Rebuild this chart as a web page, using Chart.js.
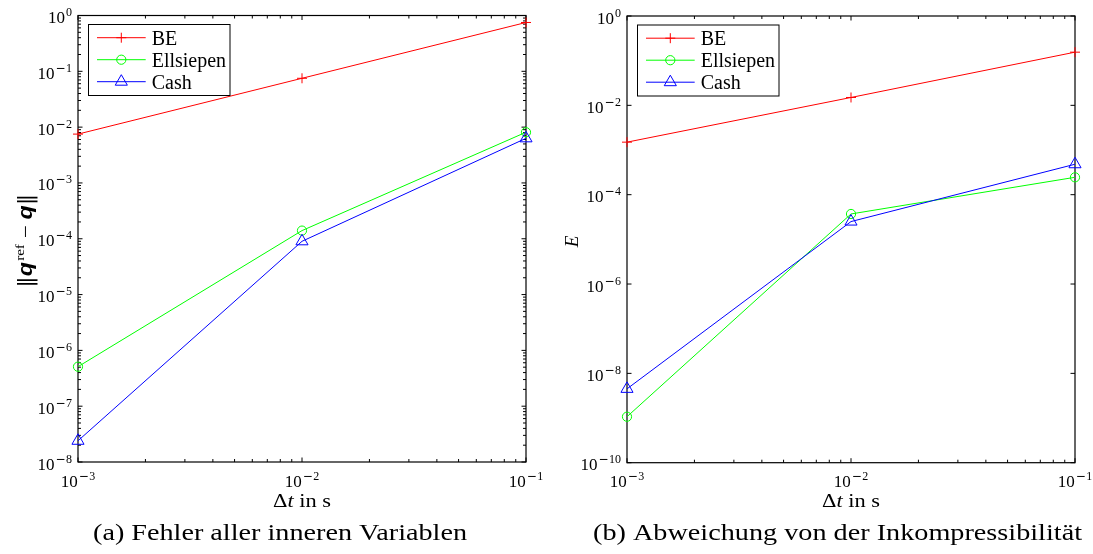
<!DOCTYPE html>
<html>
<head>
<meta charset="utf-8">
<script src="https://cdn.jsdelivr.net/npm/chart.js@4/dist/chart.umd.min.js"></script>
<style>
  html, body { margin: 0; padding: 0; background: #fff; }
  body { width: 1093px; height: 554px; overflow: hidden; position: relative; }
  .wrap { position: absolute; top: 0; height: 554px; }
</style>
</head>
<body>
<div class="wrap" style="left:0;width:546px"><canvas id="c1"></canvas></div>
<div class="wrap" style="left:546px;width:547px"><canvas id="c2"></canvas></div>
<script>
// ---------------- data ----------------
const dt = [1e-3, 1e-2, 1e-1];
const seriesNames = ['BE', 'Ellsiepen', 'Cash'];

// (a) error of all inner variables
const errBE        = [7.5e-3, 7.5e-2, 7.5e-1];
const errEllsiepen = [5.1e-7, 1.4e-4, 8.1e-3];
const errCash      = [2.4e-8, 9.0e-5, 6.3e-3];

// (b) deviation from incompressibility
const incBE        = [1.5e-3, 1.5e-2, 1.55e-1];
const incEllsiepen = [1.07e-9, 3.7e-5, 2.45e-4];
const incCash      = [4.5e-9, 2.5e-5, 4.8e-4];

const xTickValues = [1e-3, 1e-2, 1e-1];
const xTickLabels = ['10^-3', '10^-2', '10^-1'];
const errYTickValues = [1e-8, 1e-7, 1e-6, 1e-5, 1e-4, 1e-3, 1e-2, 1e-1, 1e0];
const errYTickLabels = ['10^-8', '10^-7', '10^-6', '10^-5', '10^-4', '10^-3', '10^-2', '10^-1', '10^0'];
const incYTickValues = [1e-10, 1e-8, 1e-6, 1e-4, 1e-2, 1e0];
const incYTickLabels = ['10^-10', '10^-8', '10^-6', '10^-4', '10^-2', '10^0'];

const captionA = '(a) Fehler aller inneren Variablen';
const captionB = '(b) Abweichung von der Inkompressibilität';

// ---------------- styles ----------------
const SERIF = '"Liberation Serif", "DejaVu Serif", serif';
const styles = [
  { color: '#ff0000', point: 'cross', radius: 5 },
  { color: '#00ff00', point: 'circle', radius: 4.6 },
  { color: '#0000ff', point: 'triangle', radius: 7 }
];

function makeDatasets(seriesArrays) {
  return seriesArrays.map((vals, i) => ({
    label: seriesNames[i],
    data: dt.map((x, j) => ({ x: x, y: vals[j] })),
    borderColor: styles[i].color,
    backgroundColor: 'rgba(0,0,0,0)',
    pointStyle: styles[i].point,
    pointRadius: styles[i].radius,
    pointHoverRadius: styles[i].radius,
    pointBorderWidth: 1,
    pointBorderColor: styles[i].color,
    pointBackgroundColor: 'rgba(0,0,0,0)',
    borderWidth: 1,
    showLine: true,
    fill: false,
    tension: 0,
    clip: false,
    order: 2 - i
  }));
}

// draw "10^e" label
function drawPow(ctx, label, x, yBase, align) {
  const parts = label.split('^');
  const b = parts[0], e = parts[1];
  const neg = e.charAt(0) === '-';
  const digits = neg ? e.slice(1) : e;
  const fB = '17px ' + SERIF;
  const fM = '12px "DejaVu Sans"';
  const fE = '12px ' + SERIF;
  ctx.font = fB; const wB = ctx.measureText(b).width;
  ctx.font = fM; const wM = neg ? ctx.measureText('\u2212').width : 0;
  ctx.font = fE; const wE = ctx.measureText(digits).width;
  const gap = 1;
  const total = wB + gap + wM + (neg ? 0.5 : 0) + wE;
  let sx = align === 'right' ? x - total : x - total / 2;
  ctx.textAlign = 'left';
  ctx.textBaseline = 'alphabetic';
  ctx.font = fB; ctx.fillText(b, sx, yBase);
  let ex = sx + wB + gap;
  const ey = yBase - 7;
  if (neg) { ctx.font = fM; ctx.fillText('\u2212', ex, ey); ex += wM + 0.5; }
  ctx.font = fE; ctx.fillText(digits, ex, ey);
}

// draw text made of pieces, centred at cx, optionally scaled to a target width
function drawPieces(ctx, pieces, cx, baseline, targetWidth) {
  let total = 0;
  const widths = pieces.map(p => { ctx.font = p.font; const w = ctx.measureText(p.t).width + (p.pad || 0); total += w; return w; });
  const sc = targetWidth ? targetWidth / total : 1;
  ctx.save();
  ctx.translate(cx, baseline);
  ctx.scale(sc, 1);
  ctx.textAlign = 'left';
  ctx.textBaseline = 'alphabetic';
  let x = -total / 2;
  pieces.forEach((p, i) => {
    ctx.font = p.font;
    ctx.fillText(p.t, x, p.dy || 0);
    x += widths[i];
  });
  ctx.restore();
}

function framePlugin(cfg) {
  return {
    id: 'frame_' + cfg.key,
    beforeDatasetsDraw(chart) {
      const ctx = chart.ctx, a = chart.chartArea;
      const xs = chart.scales.x, ys = chart.scales.y;
      ctx.save();
      ctx.strokeStyle = '#000';
      ctx.lineWidth = 1.2;
      ctx.strokeRect(a.left, a.top, a.right - a.left, a.bottom - a.top);
      ctx.lineWidth = 1;
      ctx.beginPath();
      // x ticks (major + minor) on bottom and top
      xTickValues.forEach((v, idx) => {
        const px = xs.getPixelForValue(v);
        ctx.moveTo(px, a.bottom); ctx.lineTo(px, a.bottom - 4.5);
        ctx.moveTo(px, a.top); ctx.lineTo(px, a.top + 4.5);
        if (idx < xTickValues.length - 1) {
          for (let k = 2; k <= 9; k++) {
            const mx = xs.getPixelForValue(v * k);
            ctx.moveTo(mx, a.bottom); ctx.lineTo(mx, a.bottom - 3);
            ctx.moveTo(mx, a.top); ctx.lineTo(mx, a.top + 3);
          }
        }
      });
      // y ticks
      cfg.yTicks.forEach((v, idx) => {
        const py = ys.getPixelForValue(v);
        ctx.moveTo(a.left, py); ctx.lineTo(a.left + 4.5, py);
        ctx.moveTo(a.right, py); ctx.lineTo(a.right - 4.5, py);
        if (cfg.yMinor && idx < cfg.yTicks.length - 1) {
          for (let k = 2; k <= 9; k++) {
            const my = ys.getPixelForValue(v * k);
            ctx.moveTo(a.left, my); ctx.lineTo(a.left + 3, my);
            ctx.moveTo(a.right, my); ctx.lineTo(a.right - 3, my);
          }
        }
      });
      ctx.stroke();
      ctx.restore();
    },
    afterDatasetsDraw(chart) {
      const ctx = chart.ctx, a = chart.chartArea;
      const xs = chart.scales.x, ys = chart.scales.y;
      ctx.save();
      ctx.fillStyle = '#000';
      // tick labels
      xTickValues.forEach((v, i) => drawPow(ctx, xTickLabels[i], xs.getPixelForValue(v), a.bottom + 24.5, 'center'));
      cfg.yTicks.forEach((v, i) => drawPow(ctx, cfg.yLabels[i], a.left - 6, ys.getPixelForValue(v) + 7.5, 'right'));
      // x title
      const cx = (a.left + a.right) / 2;
      drawPieces(ctx, [
        { t: '\u0394', font: '18px ' + SERIF },
        { t: 't', font: 'italic 18px ' + SERIF },
        { t: ' in s', font: '18px ' + SERIF }
      ], cx, a.bottom + 44.5, 58);
      // y title
      ctx.save();
      ctx.translate(cfg.yTitleX, (a.top + a.bottom) / 2 + 2);
      ctx.rotate(-Math.PI / 2);
      drawPieces(ctx, cfg.yTitle, 0, 7, cfg.yTitleWidth);
      ctx.restore();
      // caption
      drawPieces(ctx, [{ t: cfg.caption, font: '23px ' + SERIF }], cfg.captionX, 540, cfg.captionWidth);
      // legend
      const bx = a.left + 10, by = a.top + 8.5, bw = 141.5, bh = 71;
      ctx.fillStyle = '#fff';
      ctx.fillRect(bx, by, bw, bh);
      ctx.strokeStyle = '#000';
      ctx.lineWidth = 1;
      ctx.strokeRect(bx + 0.5, by + 0.5, bw, bh);
      const metas = chart.data.datasets;
      metas.forEach((ds, i) => {
        const ly = by + 13.7 + i * 22;
        ctx.strokeStyle = ds.borderColor;
        ctx.lineWidth = 1;
        ctx.beginPath();
        ctx.moveTo(bx + 9, ly); ctx.lineTo(bx + 57.7, ly);
        ctx.stroke();
        ctx.fillStyle = 'rgba(0,0,0,0)';
        ctx.strokeStyle = ds.borderColor;
        Chart.helpers.drawPoint(ctx, { pointStyle: ds.pointStyle, radius: ds.pointRadius, borderWidth: 1, rotation: 0 }, bx + 33.3, ly);
        ctx.fillStyle = '#000';
        ctx.font = '20px ' + SERIF;
        ctx.textAlign = 'left';
        ctx.textBaseline = 'alphabetic';
        ctx.fillText(ds.label, bx + 63.7, ly + 7);
      });
      ctx.restore();
    }
  };
}

function makeChart(id, seriesArrays, cfg, padding, yMin, yMax) {
  return new Chart(document.getElementById(id), {
    type: 'scatter',
    data: { datasets: makeDatasets(seriesArrays) },
    options: {
      responsive: true,
      maintainAspectRatio: false,
      animation: false,
      events: [],
      layout: { padding: padding },
      plugins: { legend: { display: false }, tooltip: { enabled: false }, title: { display: false } },
      scales: {
        x: { type: 'logarithmic', min: xTickValues[0], max: xTickValues[xTickValues.length - 1], display: false },
        y: { type: 'logarithmic', min: yMin, max: yMax, display: false }
      }
    },
    plugins: [framePlugin(cfg)]
  });
}

const BQ = 'italic bold 20px "Liberation Sans", "DejaVu Sans", sans-serif';
makeChart('c1', [errBE, errEllsiepen, errCash], {
  key: 'a',
  yTicks: errYTickValues, yLabels: errYTickLabels, yMinor: true,
  yTitleX: 25,
  yTitle: [
    { t: '\u2016', font: '20px "DejaVu Serif"' },
    { t: 'q', font: BQ, pad: 1 },
    { t: 'ref', font: '13px ' + SERIF, dy: -8 },
    { t: ' \u2212 ', font: '20px ' + SERIF },
    { t: 'q', font: BQ },
    { t: '\u2016', font: '20px "DejaVu Serif"' }
  ],
  yTitleWidth: 94,
  caption: captionA, captionX: 280, captionWidth: 374
}, { left: 78, top: 15.5, right: 20, bottom: 92 }, errYTickValues[0], errYTickValues[errYTickValues.length - 1]);

makeChart('c2', [incBE, incEllsiepen, incCash], {
  key: 'b',
  yTicks: incYTickValues, yLabels: incYTickLabels, yMinor: false,
  yTitleX: 25,
  yTitle: [ { t: 'E', font: 'italic 19px ' + SERIF } ],
  yTitleWidth: 0,
  caption: captionB, captionX: 837.5 - 546, captionWidth: 489
}, { left: 81, top: 16, right: 18, bottom: 91.3 }, incYTickValues[0], incYTickValues[incYTickValues.length - 1]);
</script>
</body>
</html>
